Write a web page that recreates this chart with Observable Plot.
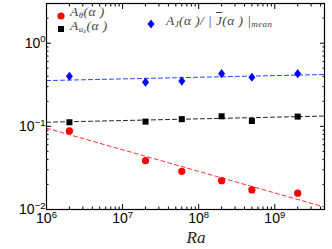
<!DOCTYPE html>
<html><head><meta charset="utf-8">
<script src="https://cdn.jsdelivr.net/npm/d3@7"></script>
<script src="https://cdn.jsdelivr.net/npm/@observablehq/plot@0.6"></script>
<style>
body{margin:0;background:#fff;}
#wrap{position:relative;width:332px;height:249px;}
#wrap > svg{position:absolute;left:0;top:0;}
.leg{position:absolute;font-family:"Liberation Serif","DejaVu Serif",serif;font-style:italic;font-size:13.5px;color:#444;white-space:nowrap;line-height:11px;letter-spacing:0.4px}
.leg sub{font-size:9px;vertical-align:-2px;line-height:0}
.ol{text-decoration:overline}
.mk{position:absolute;}
</style></head><body><div id="wrap"></div>
<script>
const ra = [2e6, 2e7, 6e7, 2e8, 5e8, 2e9];
const aTheta = [0.088, 0.0386, 0.0288, 0.0222, 0.0172, 0.0157];
const aUz = [0.112, 0.114, 0.122, 0.132, 0.116, 0.131];
const aJ = [0.40, 0.34, 0.35, 0.43, 0.39, 0.43];
const fitRa = [1e6, 4.5e9];
const fitTheta = [0.095, 0.0107];
const fitUz = [0.112, 0.133];
const fitJ = [0.355, 0.42];
const xMajor = [1e6, 1e7, 1e8, 1e9];
const yMajor = [1e-2, 1e-1, 1e0];
const xMinor = [];
for (const d of [1e6, 1e7, 1e8, 1e9]) for (let k = 2; k <= 9; k++) if (d * k <= 4.5e9) xMinor.push(d * k);
const yMinor = [];
for (const d of [1e-2, 1e-1, 1e0]) for (let k = 2; k <= 9; k++) if (d * k <= 3) yMinor.push(d * k);

const fmt = d => "10^" + Math.round(Math.log10(d));
const none = () => "";
const rows = ra.map((x, i) => ({x, t: aTheta[i], u: aUz[i], j: aJ[i]}));
const fits = fitRa.map((x, i) => ({x, t: fitTheta[i], u: fitUz[i], j: fitJ[i]}));

const squatDiamond = {
  draw(ctx, size) {
    const s = Math.sqrt(size / Math.PI);
    const w = s * 0.92, h = s * 1.2;
    ctx.moveTo(0, -h); ctx.lineTo(w, 0); ctx.lineTo(0, h); ctx.lineTo(-w, 0); ctx.closePath();
  }
};

const plot = Plot.plot({
  width: 332, height: 249,
  marginLeft: 46, marginRight: 8, marginTop: 3, marginBottom: 40,
  style: {fontFamily: "'Liberation Sans', Arial, sans-serif", background: "#fff"},
  x: {type: "log", domain: [1e6, 4.5e9], label: null},
  y: {type: "log", domain: [1e-2, 3], label: null},
  marks: [
    Plot.line(fits, {x: "x", y: "t", stroke: "#ff3333", strokeWidth: 1, strokeDasharray: "4,3"}),
    Plot.line(fits, {x: "x", y: "u", stroke: "#222", strokeWidth: 1, strokeDasharray: "4,3"}),
    Plot.line(fits, {x: "x", y: "j", stroke: "#2244ff", strokeWidth: 1, strokeDasharray: "4,3"}),
    Plot.dot(rows, {x: "x", y: "t", r: 3.6, fill: "#ff0000", stroke: null}),
    Plot.dot(rows, {x: "x", y: "u", symbol: "square", r: 3.4, fill: "#000", stroke: null}),
    Plot.dot(rows, {x: "x", y: "j", symbol: squatDiamond, r: 3.8, fill: "#0000ff", stroke: null}),
    Plot.axisX(xMajor, {anchor: "bottom", tickSize: -5, tickPadding: 9, tickFormat: fmt, fontSize: 14, color: "#000"}),
    Plot.axisX(xMinor, {anchor: "bottom", tickSize: -2.5, tickFormat: none}),
    Plot.axisX(xMajor, {anchor: "top", tickSize: -5, tickFormat: none}),
    Plot.axisX(xMinor, {anchor: "top", tickSize: -2.5, tickFormat: none}),
    Plot.axisY(yMajor, {anchor: "left", tickSize: -5, tickPadding: 6, tickFormat: fmt, fontSize: 14, color: "#000"}),
    Plot.axisY(yMinor, {anchor: "left", tickSize: -2.5, tickFormat: none}),
    Plot.axisY(yMajor, {anchor: "right", tickSize: -5, tickFormat: none}),
    Plot.axisY(yMinor, {anchor: "right", tickSize: -2.5, tickFormat: none}),
    Plot.frame({stroke: "#000", strokeWidth: 1.2}),
    Plot.text(["Ra"], {frameAnchor: "bottom-left", dx: 140, dy: 28, fontSize: 17, fontStyle: "italic", fontFamily: "'Liberation Serif', serif", fill: "#222", lineAnchor: "middle"})
  ]
});

d3.select(plot).selectAll("g[aria-label$='tick label'] text").each(function () {
  const t = this.textContent;
  if (!t.includes("^")) return;
  const [b, e] = t.split("^");
  const s = d3.select(this);
  s.text(null);
  s.append("tspan").text(b);
  s.append("tspan").attr("dy", "-0.55em").attr("font-size", "9.5px").text(e.replace("-", "\u2212"));
});

const wrap = document.getElementById("wrap");
wrap.appendChild(plot);

// legend markers (HTML overlay)
const markers = [
  {cx: 61, cy: 12, svg: "<circle cx='5' cy='5' r='3.6' fill='#ff0000'/>"},
  {cx: 61, cy: 25, svg: "<rect x='2' y='2' width='6' height='6' fill='#000'/>"},
  {cx: 151, cy: 20, svg: "<path d='M5,0.4 L8.5,5 L5,9.6 L1.5,5 Z' fill='#0000ff'/>"}
];
for (const m of markers) {
  const d = document.createElement("div");
  d.className = "mk";
  d.style.left = (m.cx - 5) + "px";
  d.style.top = (m.cy - 5) + "px";
  d.innerHTML = "<svg width='10' height='10'>" + m.svg + "</svg>";
  wrap.appendChild(d);
}
const legs = [
  {l: 70, t: 6, h: "A<sub>θ</sub>(α )"},
  {l: 70, t: 20, h: "A<sub>u<sub style='font-size:6.5px;vertical-align:-1px'>z</sub></sub>(α )"},
  {l: 166, t: 15, h: "A<sub>J</sub>(α )/ | <span class='ol'>J</span>(α ) |<sub>mean</sub>"}
];
for (const g of legs) {
  const d = document.createElement("div");
  d.className = "leg";
  d.style.left = g.l + "px";
  d.style.top = g.t + "px";
  d.innerHTML = g.h;
  wrap.appendChild(d);
}
</script></body></html>
